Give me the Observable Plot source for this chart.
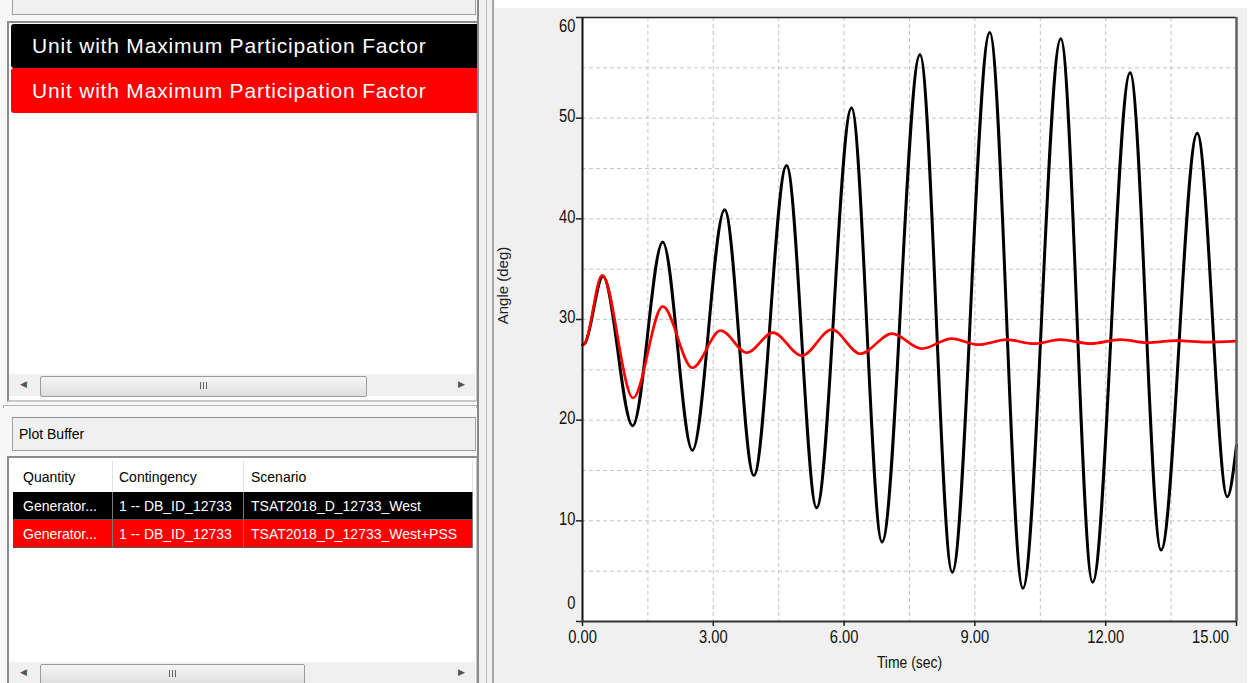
<!DOCTYPE html>
<html>
<head>
<meta charset="utf-8">
<script src="https://cdn.jsdelivr.net/npm/d3@7"></script>
<script src="https://cdn.jsdelivr.net/npm/@observablehq/plot@0.6"></script>
<style>
  html, body { margin: 0; padding: 0; }
  body { width: 1251px; height: 683px; overflow: hidden; position: relative; background: #ffffff; font-family: "Liberation Sans", Arial, sans-serif; }
  .abs { position: absolute; box-sizing: border-box; }
  .legendRow { position: absolute; left: 11px; width: 462px; color: #fff; font-size: 21px; letter-spacing: 0.8px; padding-left: 21px; display: flex; align-items: center; border-radius: 3px; white-space: nowrap; }
  .cell { position: absolute; font-size: 14px; white-space: nowrap; display: flex; align-items: center; }
  .thumb { position: absolute; border: 1px solid #9c9c9c; border-radius: 2px; background: linear-gradient(#f6f6f6, #dedede); }
  .grip { position: absolute; width: 1px; height: 7px; background: #606060; }
</style>
</head>
<body>
<div id="panel"></div>
<div class="abs" style="left:495px; top:8px; width:752px; height:675px; background:#f0f0f0;"></div>
<div id="chart" class="abs" style="left:495px; top:8px;"></div>
<script>
// ---------- data ----------
const legendLabels = ["Unit with Maximum Participation Factor", "Unit with Maximum Participation Factor"];
const seriesColors = ["#000000", "#ff0000"];
const tableHeaders = ["Quantity", "Contingency", "Scenario"];
const tableQuantity = ["Generator...", "Generator..."];
const tableContingency = ["1 -- DB_ID_12733", "1 -- DB_ID_12733"];
const tableScenario = ["TSAT2018_D_12733_West", "TSAT2018_D_12733_West+PSS"];
const panelTitle = "Plot Buffer";

// time (sec) and angle (deg) (extrema of each swing)
const westTime  = [0, 0.05, 0.47, 1.15, 1.84, 2.52, 3.26, 3.93, 4.68, 5.37, 6.17, 6.87, 7.74, 8.48, 9.34, 10.1, 10.97, 11.7, 12.56, 13.27, 14.1, 14.79, 15.0];
const westAngle = [27.5, 27.6, 34.3, 19.45, 37.7, 17.0, 40.9, 14.5, 45.3, 11.3, 51.0, 7.9, 56.3, 4.9, 58.5, 3.3, 57.9, 3.9, 54.5, 7.1, 48.5, 12.4, 17.5];
const pssTime   = [0, 0.05, 0.45, 1.16, 1.84, 2.52, 3.17, 3.77, 4.37, 5.03, 5.72, 6.37, 7.1, 7.78, 8.47, 9.08, 9.73, 10.35, 10.96, 11.65, 12.34, 12.95, 13.63, 14.3, 15.0];
const pssAngle  = [27.5, 27.6, 34.4, 22.2, 31.3, 25.2, 28.9, 26.7, 28.7, 26.4, 29.0, 26.6, 28.6, 27.1, 28.1, 27.5, 28.0, 27.6, 28.0, 27.6, 28.0, 27.7, 27.9, 27.75, 27.85];

const xTickValues = [0, 3, 6, 9, 12, 15];
const xGridValues = [1.5, 3, 4.5, 6, 7.5, 9, 10.5, 12, 13.5];
const yTickValues = [0, 10, 20, 30, 40, 50, 60];
const yGridValues = [5, 10, 15, 20, 25, 30, 35, 40, 45, 50, 55];
const xLabel = "Time (sec)";
const yLabel = "Angle (deg)";

// ---------- left GUI panel ----------
const panel = document.getElementById("panel");
function box(style, html) {
  const d = document.createElement("div");
  d.className = "abs";
  d.setAttribute("style", style);
  if (html !== undefined) d.innerHTML = html;
  panel.appendChild(d);
  return d;
}
function scrollbar(top, thumbLeft, thumbRight) {
  box(`left:9px; top:${top}px; width:466px; height:22px; background:#f0f0f0;`);
  box(`left:20px; top:${top + 5}px; font-size:9px; color:#555;`, "&#9664;");
  box(`left:458px; top:${top + 5}px; font-size:9px; color:#555;`, "&#9654;");
  const t = box(`left:${thumbLeft}px; top:${top + 2}px; width:${thumbRight - thumbLeft}px; height:19px;`);
  t.className = "thumb";
  const mid = (thumbLeft + thumbRight) / 2;
  [-3, 0, 3].forEach(o => { const g = box(`left:${mid + o}px; top:${top + 8}px;`); g.className = "grip"; });
}
box("left:0; top:0; width:478px; height:683px; background:#f7f7f7;");
box("left:12px; top:-2px; width:464px; height:17px; background:#f0f0f0; border:1px solid #a0a0a0;");
// legend list box
box("left:7px; top:21px; width:471px; height:381px; background:#fff; border:2px solid #8c8c8c; border-right-color:#c8c8c8; border-bottom-color:#c8c8c8;");
legendLabels.forEach((lab, i) => {
  const d = document.createElement("div");
  d.className = "legendRow";
  d.style.top = (24 + i * 44) + "px";
  d.style.height = (44 + i) + "px";
  d.style.background = seriesColors[i];
  d.textContent = lab;
  panel.appendChild(d);
});
scrollbar(374, 40, 365);
// splitter
box("left:3px; top:405px; width:474px; height:3px; border-top:1px solid #b4b4b4; border-left:1px solid #b4b4b4; border-right:1px solid #b4b4b4;");
// Plot Buffer
box("left:12px; top:417px; width:464px; height:34px; background:#f0f0f0; border:1px solid #a0a0a0; border-top-color:#8c8c8c;");
box("left:19px; top:417px; height:34px; font-size:14px; display:flex; align-items:center; color:#000;", panelTitle);
// table
box("left:7px; top:456px; width:471px; height:240px; background:#fff; border:2px solid #8c8c8c; border-right-color:#c8c8c8;");
const colX = [13, 113, 244];
const colW = [100, 131, 229];
const colPad = [10, 6, 7];
tableHeaders.forEach((h, j) => {
  const c = document.createElement("div");
  c.className = "cell";
  c.setAttribute("style", `left:${colX[j]}px; top:461px; width:${colW[j]}px; height:31px; padding-left:${colPad[j]}px; box-sizing:border-box; color:#000; border-right:1px solid #e2e2e2;`);
  c.textContent = h;
  panel.appendChild(c);
});
tableQuantity.forEach((q, i) => {
  const vals = [q, tableContingency[i], tableScenario[i]];
  const top = 492 + i * 28;
  vals.forEach((v, j) => {
    const c = document.createElement("div");
    c.className = "cell";
    c.setAttribute("style", `left:${colX[j]}px; top:${top}px; width:${colW[j]}px; height:28px; padding-left:${colPad[j]}px; box-sizing:border-box; color:#fff; background:${seriesColors[i]}; border-right:1px solid #7a7a7a; border-bottom:1px solid #555;`);
    c.textContent = v;
    panel.appendChild(c);
  });
});
scrollbar(662, 40, 303);
// vertical separators between panels
box("left:477px; top:0; width:2px; height:683px; background:#8a8a8a;");
box("left:479px; top:0; width:16px; height:683px; background:#f0f0f0;");
box("left:486px; top:0; width:1px; height:683px; background:#b8b8b8;");
box("left:492px; top:0; width:2px; height:683px; background:#a8a8a8;");
box("left:1246px; top:8px; width:1px; height:675px; background:#d6d6d6;");

// ---------- chart ----------
const west = westTime.map((t, i) => ({t, v: westAngle[i]}));
const pss = pssTime.map((t, i) => ({t, v: pssAngle[i]}));
const sans = "'Liberation Sans', Arial, sans-serif";
const fmt = d => d.toFixed(2);
const lastX = xTickValues[xTickValues.length - 1];

const chart = Plot.plot({
  width: 752,
  height: 675,
  marginLeft: 87,
  marginRight: 11,
  marginTop: 9,
  marginBottom: 62,
  style: {background: "transparent", fontFamily: sans, fontSize: "18px", color: "#111", overflow: "visible"},
  x: {domain: [0, 15], label: null, axis: null},
  y: {domain: [0, 60], label: null, axis: null},
  marks: [
    Plot.frame({fill: "#ffffff", stroke: null}),
    Plot.gridX(xGridValues, {stroke: "#c4c4c4", strokeOpacity: 1, strokeDasharray: "4,3"}),
    Plot.gridY(yGridValues, {stroke: "#c4c4c4", strokeOpacity: 1, strokeDasharray: "4,3"}),
    Plot.line(west, {x: "t", y: "v", stroke: seriesColors[0], strokeWidth: 3, curve: "monotone-x"}),
    Plot.line(pss, {x: "t", y: "v", stroke: seriesColors[1], strokeWidth: 2.6, curve: "monotone-x"}),
    Plot.ruleY([60], {stroke: "#222", strokeWidth: 1.5}),
    Plot.ruleX([15], {stroke: "#606060", strokeWidth: 2.5}),
    Plot.ruleX([0], {stroke: "#111", strokeWidth: 2}),
    Plot.ruleY([0], {stroke: "#333", strokeWidth: 2}),
    // tick lines
    Plot.axisY({ticks: yTickValues, tickSize: 6, tickFormat: () => "", stroke: "#222", strokeWidth: 1.5}),
    Plot.axisX({ticks: xTickValues, tickSize: 5, tickFormat: () => "", stroke: "#222", strokeWidth: 1.5}),
    // tick labels
    Plot.axisY({ticks: yTickValues.filter(d => d > 0 && d < 60), tickSize: 0, tickPadding: 7, dy: -2, className: "narrowtxt"}),
    Plot.axisY({ticks: [60], tickSize: 0, tickPadding: 7, dy: 9, className: "narrowtxt"}),
    Plot.axisY({ticks: [0], tickSize: 0, tickPadding: 7, dy: -18, className: "narrowtxt"}),
    Plot.axisX({ticks: xTickValues.filter(d => d < lastX), tickSize: 0, tickPadding: 9, tickFormat: fmt, className: "narrowtxt"}),
    Plot.axisX({ticks: [lastX], tickSize: 0, tickPadding: 9, tickFormat: fmt, dx: -26, className: "narrowtxt"}),
    Plot.text([xLabel], {frameAnchor: "bottom", dy: 46, fontSize: 17, fill: "#111", className: "narrowtxt"}),
    Plot.text([yLabel], {frameAnchor: "left", textAnchor: "middle", rotate: -90, dx: -79, dy: -34, fontSize: 15, fill: "#222"})
  ]
});
document.getElementById("chart").appendChild(chart);

// condensed look for the axis texts (the original uses a narrow face)
chart.querySelectorAll(".narrowtxt text").forEach(el => {
  const t = el.getAttribute("transform") || "";
  el.setAttribute("transform", `${t} scale(0.82,1)`);
});
</script>
</body>
</html>
